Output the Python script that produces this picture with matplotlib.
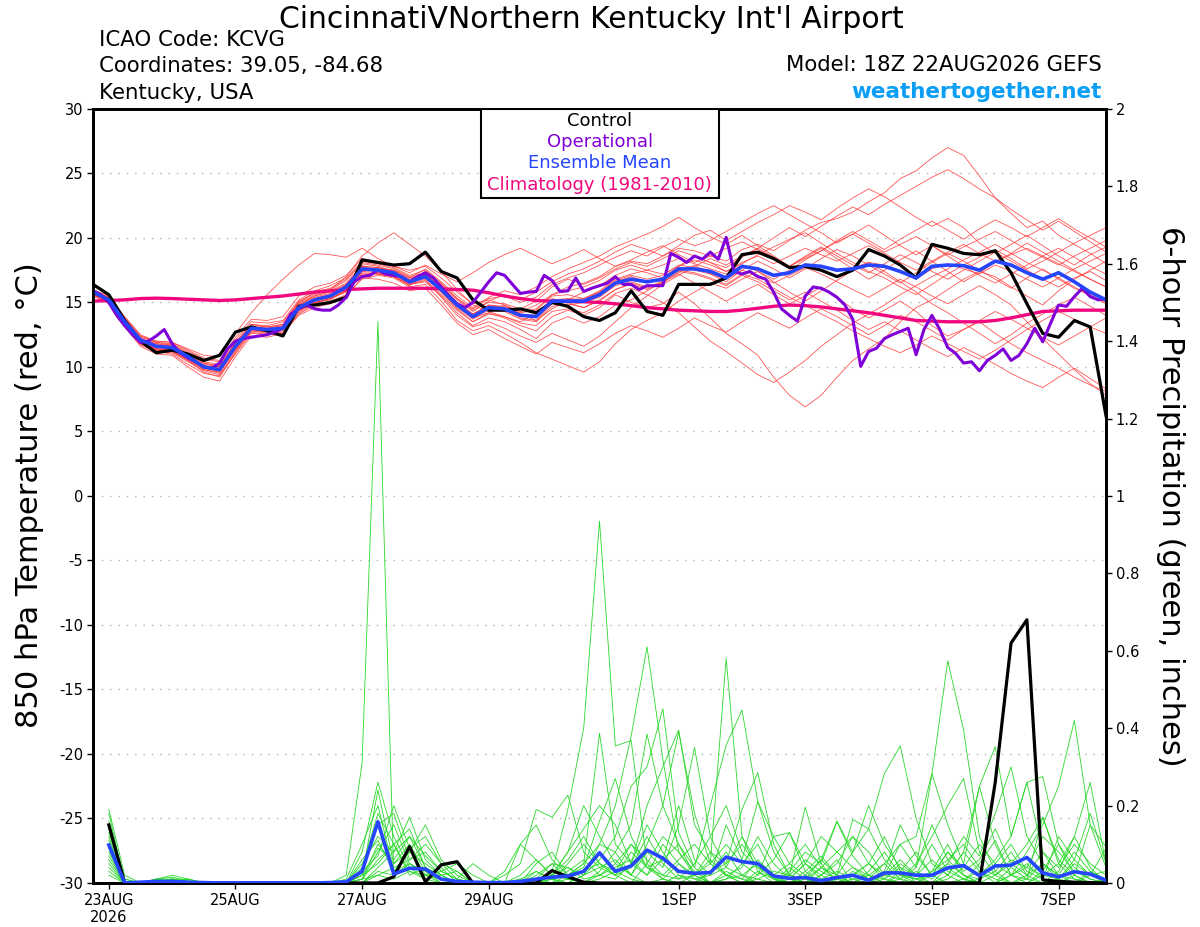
# GEFS 850 hPa temperature / 6-hour precipitation plume for KCVG
import datetime as dt
import matplotlib
matplotlib.use('Agg')
from matplotlib import pyplot as plt
from matplotlib.patches import Rectangle

plt.rcParams['font.family'] = ['DejaVu Sans']
plt.rcParams['axes.unicode_minus'] = False

start = dt.datetime(2026, 8, 22, 18)   # model run 18Z 22AUG2026
step = dt.timedelta(hours=6)

# ---- 850 hPa temperature (deg C), every 6 h from 22AUG 18Z ----
control_t = [16.4, 15.6, 13.6, 12.0, 11.1, 11.3, 11.0, 10.5, 10.9, 12.7,
             13.1, 12.8, 12.4, 14.7, 14.8, 15.0, 15.4, 18.3, 18.1, 17.9,
             18.0, 18.9, 17.4, 16.9, 15.2, 14.4, 14.4, 14.5, 14.2, 15.0,
             14.7, 13.9, 13.6, 14.2, 15.9, 14.3, 14.0, 16.4, 16.4, 16.4,
             16.9, 18.7, 18.9, 18.4, 17.7, 17.8, 17.5, 17.0, 17.5, 19.1,
             18.6, 17.9, 16.9, 19.5, 19.2, 18.8, 18.7, 19.0, 17.3, 14.9,
             12.6, 12.3, 13.6, 13.1, 6.2]

mean_t = [15.8, 15.2, 13.5, 12.1, 11.6, 11.5, 10.8, 10.0, 9.8, 11.6,
          13.0, 12.9, 13.0, 14.6, 15.2, 15.5, 16.2, 17.6, 17.5, 17.3,
          16.6, 17.0, 16.0, 14.8, 13.9, 14.6, 14.5, 14.0, 13.9, 15.1,
          15.1, 15.1, 15.6, 16.5, 16.8, 16.6, 16.8, 17.6, 17.6, 17.4,
          16.9, 17.8, 17.6, 17.1, 17.3, 17.9, 17.8, 17.5, 17.6, 17.9,
          17.8, 17.4, 16.9, 17.8, 17.9, 17.85, 17.5, 18.2, 17.9, 17.3,
          16.8, 17.3, 16.6, 15.8, 15.2]

clim_t = [15.1, 15.15, 15.2, 15.3, 15.33, 15.3, 15.25, 15.2, 15.15, 15.2,
          15.3, 15.4, 15.5, 15.65, 15.8, 15.9, 16.0, 16.05, 16.1, 16.1,
          16.1, 16.1, 16.05, 16.0, 15.95, 15.75, 15.5, 15.3, 15.15, 15.1,
          15.1, 15.05, 15.0, 14.9, 14.75, 14.6, 14.5, 14.4, 14.35, 14.3,
          14.3, 14.4, 14.55, 14.7, 14.8, 14.75, 14.65, 14.5, 14.35, 14.2,
          14.0, 13.8, 13.6, 13.55, 13.5, 13.5, 13.5, 13.6, 13.8, 14.05,
          14.3, 14.35, 14.4, 14.4, 14.4]

# operational run, every 3 h
oper_t = [15.9, 15.6, 15.0, 14.0, 13.2, 12.5, 11.9, 12.0, 12.4, 12.9,
          11.8, 11.1, 10.7, 10.4, 10.0, 9.9, 10.3, 11.4, 12.0, 12.2,
          12.3, 12.4, 12.5, 12.7, 13.0, 14.1, 14.5, 14.8, 14.5, 14.4,
          14.4, 14.8, 15.4, 16.6, 17.0, 17.1, 17.5, 17.2, 17.1, 17.0,
          16.6, 17.0, 17.3, 16.9, 16.2, 15.5, 14.9, 14.6, 15.0, 15.8,
          16.6, 17.3, 17.1, 16.4, 15.7, 15.8, 15.85, 17.1, 16.7, 15.85,
          15.9, 16.9, 15.85, 16.1, 16.3, 16.5, 17.0, 16.4, 16.4, 16.0,
          16.3, 16.3, 16.3, 18.8, 18.5, 18.1, 18.6, 18.35, 18.9, 18.35,
          20.05, 17.4, 17.2, 17.4, 17.0, 16.8, 15.8, 14.5, 14.0, 13.55,
          15.5, 16.2, 16.1, 15.8, 15.4, 14.8, 13.7, 10.05, 11.2, 11.45,
          12.2, 12.5, 12.75, 13.0, 10.95, 12.9, 14.0, 12.9, 11.5, 11.05,
          10.3, 10.4, 9.7, 10.5, 10.9, 11.4, 10.5, 10.9, 11.8, 13.0,
          11.95, 13.4, 14.8, 14.7, 15.45, 16.1, 15.45, 15.2, 15.3]

# ensemble members (red)
mem_t01 = [15.6, 15.0, 13.2, 11.8, 11.2, 11.0, 10.2, 9.5, 9.3, 11.2, 12.8, 12.6, 12.9,
           14.8, 15.5, 15.9, 16.5, 17.9, 17.2, 17.0, 16.3, 17.2, 15.8, 14.5, 13.5, 14.2,
           14.8, 14.3, 14.8, 15.6, 16.2, 16.5, 17.0, 17.8, 18.2, 18.0, 18.6, 19.2, 19.0,
           18.6, 18.2, 19.1, 19.5, 19.0, 19.8, 20.6, 21.2, 21.5, 22.0, 22.8, 23.5, 24.6,
           25.2, 26.2, 27.0, 26.4, 24.8, 23.1, 21.9, 20.8, 21.3, 20.2, 19.5, 18.8, 18.0]
mem_t02 = [15.7, 15.1, 13.4, 11.9, 11.4, 11.3, 10.6, 9.8, 9.5, 11.4, 12.9, 12.7, 12.8,
           14.4, 15.0, 15.2, 16.0, 17.4, 17.6, 17.5, 16.9, 17.2, 16.2, 14.9, 13.8, 14.2,
           13.8, 13.2, 12.8, 13.9, 14.4, 14.0, 14.6, 15.6, 15.0, 14.6, 14.9, 15.8, 14.9,
           13.8, 12.6, 11.8, 10.9, 9.2, 7.8, 6.9, 7.8, 9.2, 10.5, 11.4, 12.2, 13.5,
           14.6, 15.2, 16.0, 16.8, 17.4, 17.0, 16.2, 15.5, 14.8, 15.9, 16.8, 17.5, 18.2]
mem_t03 = [15.9, 15.3, 13.6, 12.3, 11.9, 11.7, 11.1, 10.4, 10.2, 11.9, 13.3, 13.2, 13.5,
           15.0, 15.8, 16.1, 16.8, 18.0, 17.8, 17.4, 16.7, 17.4, 16.3, 15.2, 14.3, 15.1,
           15.6, 15.2, 15.8, 16.6, 17.2, 17.6, 18.2, 18.9, 19.5, 19.1, 18.6, 19.4, 20.2,
           20.6, 19.8, 20.5, 21.2, 21.8, 22.5, 22.0, 21.4, 22.3, 23.1, 23.8, 23.2, 22.4,
           21.6, 20.9, 21.5, 20.8, 19.6, 18.8, 19.5, 20.2, 19.4, 18.6, 17.9, 18.7, 19.3]
mem_t04 = [15.5, 14.9, 13.1, 11.6, 11.0, 10.9, 10.0, 9.2, 8.9, 10.8, 12.4, 12.3, 12.6,
           14.2, 14.9, 15.3, 15.8, 17.1, 17.3, 17.0, 16.4, 16.6, 15.5, 14.2, 13.2, 13.8,
           13.5, 12.9, 12.2, 13.4, 13.9, 13.4, 13.9, 14.8, 15.2, 15.9, 16.6, 17.2, 16.5,
           15.8, 15.1, 15.8, 16.4, 15.6, 14.9, 15.5, 16.2, 15.4, 14.5, 13.8, 14.4, 15.1,
           14.3, 13.2, 12.4, 12.9, 13.5, 12.6, 11.8, 11.1, 10.5, 9.9, 9.2, 8.6, 8.1]
mem_t05 = [16.0, 15.5, 13.9, 12.5, 12.0, 11.9, 11.4, 10.9, 10.8, 12.6, 14.2, 15.6, 16.8,
           17.9, 18.8, 18.7, 18.5, 19.2, 18.4, 17.8, 17.5, 17.8, 16.9, 15.8, 14.9, 15.2,
           14.8, 14.1, 13.6, 14.5, 15.2, 15.8, 16.3, 17.1, 17.6, 17.3, 16.9, 17.8, 18.6,
           18.1, 17.4, 18.0, 18.7, 19.3, 19.9, 20.4, 19.6, 18.8, 18.1, 17.4, 16.9, 16.2,
           15.6, 16.4, 17.2, 17.9, 18.5, 19.1, 18.4, 17.6, 18.2, 18.9, 19.6, 20.2, 20.8]
mem_t06 = [15.8, 15.2, 13.5, 12.0, 11.5, 11.4, 10.7, 10.0, 9.6, 11.5, 13.1, 13.0, 13.2,
           15.0, 15.6, 16.0, 17.0, 18.6, 19.6, 20.4, 19.5, 18.6, 17.4, 16.0, 14.8, 14.3,
           13.9, 13.5, 14.1, 15.3, 15.0, 14.6, 15.2, 16.0, 16.4, 16.0, 16.6, 17.3, 17.9,
           17.2, 16.6, 17.5, 18.2, 17.6, 16.9, 17.6, 18.4, 19.1, 18.6, 17.9, 17.2, 16.5,
           17.3, 18.1, 18.8, 18.2, 17.5, 16.8, 16.1, 16.9, 17.6, 16.8, 16.1, 15.6, 15.0]
mem_t07 = [15.6, 15.0, 13.3, 11.7, 11.2, 11.1, 10.4, 9.7, 9.4, 11.0, 12.6, 12.5, 12.7,
           14.1, 14.8, 15.1, 15.6, 16.8, 17.1, 16.9, 16.2, 16.4, 15.1, 13.6, 12.8, 13.2,
           12.6, 11.9, 11.1, 10.6, 10.1, 9.6, 10.4, 11.8, 12.9, 13.6, 14.2, 15.1, 15.8,
           16.5, 16.1, 16.8, 17.4, 16.6, 15.8, 15.1, 15.9, 16.7, 17.5, 18.1, 17.4, 16.6,
           15.8, 14.9, 14.2, 13.4, 12.6, 11.8, 12.5, 13.4, 14.1, 14.8, 15.4, 14.7, 14.0]
mem_t08 = [15.9, 15.4, 13.7, 12.2, 11.8, 11.6, 11.0, 10.3, 10.0, 11.8, 13.2, 13.1, 13.3,
           14.9, 15.5, 15.8, 16.4, 17.8, 17.7, 17.5, 16.9, 17.6, 16.6, 15.5, 14.6, 15.4,
           15.9, 15.6, 16.2, 17.0, 17.6, 18.1, 18.6, 19.3, 19.8, 20.3, 20.9, 21.6, 20.8,
           20.1, 19.5, 20.2, 19.4, 18.6, 17.8, 18.5, 19.2, 18.4, 17.6, 16.8, 17.5, 18.3,
           19.0, 18.2, 17.4, 16.6, 17.3, 18.1, 18.8, 19.6, 18.9, 18.2, 17.5, 16.8, 16.2]
mem_t09 = [15.7, 15.2, 13.5, 12.1, 11.6, 11.5, 10.8, 10.1, 9.9, 11.7, 13.0, 12.9, 13.0,
           14.5, 15.1, 15.4, 16.1, 17.5, 17.4, 17.2, 16.6, 17.0, 15.9, 14.7, 13.8, 14.6,
           14.4, 13.8, 13.6, 14.9, 14.8, 15.0, 15.4, 16.3, 16.6, 16.2, 16.5, 17.4, 17.2,
           16.8, 16.3, 17.1, 16.6, 15.9, 15.2, 15.8, 15.1, 14.4, 13.6, 12.9, 13.5, 12.8,
           12.1, 11.4, 10.8, 11.5, 10.9, 10.2, 9.5, 8.9, 8.4, 9.2, 9.9, 9.1, 8.3]
mem_t10 = [15.8, 15.3, 13.6, 12.2, 11.7, 11.6, 10.9, 10.2, 10.0, 11.6, 13.0, 12.9, 13.1,
           14.7, 15.3, 15.6, 16.3, 17.7, 17.5, 17.3, 16.7, 17.1, 16.1, 15.0, 14.1, 14.8,
           14.6, 14.2, 14.4, 15.5, 15.6, 15.3, 15.9, 16.8, 17.2, 17.5, 17.9, 18.4, 18.0,
           17.6, 17.2, 17.9, 17.4, 16.8, 17.5, 18.3, 19.0, 19.8, 20.5, 19.8, 19.1, 19.9,
           20.6, 21.3, 20.6, 19.9, 20.7, 21.4, 20.8, 20.1, 20.8, 21.5, 20.7, 20.0, 19.3]
mem_t11 = [15.6, 15.1, 13.4, 11.8, 11.3, 11.2, 10.5, 9.8, 9.6, 11.3, 12.8, 12.7, 12.9,
           14.3, 15.0, 15.3, 15.9, 17.2, 17.2, 17.0, 16.4, 16.8, 15.6, 14.4, 13.5, 14.1,
           13.9, 13.4, 13.2, 14.3, 14.5, 14.2, 14.8, 15.7, 16.1, 15.6, 15.0, 14.2, 13.1,
           12.0, 11.2, 10.3, 9.4, 8.8, 9.6, 10.5, 11.6, 12.5, 13.4, 14.1, 14.8, 15.6,
           16.3, 17.0, 17.6, 18.3, 18.9, 19.5, 18.8, 18.1, 17.5, 16.9, 17.6, 18.2, 18.8]
mem_t12 = [15.9, 15.4, 13.8, 12.4, 11.9, 11.8, 11.2, 10.6, 10.4, 12.1, 13.5, 13.4, 13.6,
           15.2, 15.9, 16.3, 16.9, 18.2, 18.0, 17.7, 17.1, 17.5, 16.5, 15.3, 14.4, 15.0,
           14.9, 14.5, 15.1, 16.2, 16.8, 16.4, 16.9, 17.6, 18.1, 17.8, 18.4, 19.0, 18.6,
           18.1, 17.7, 18.5, 19.2, 20.0, 20.8, 20.1, 20.9, 21.7, 22.4, 21.8, 22.6, 23.3,
           24.0, 24.7, 25.3, 24.6, 23.8, 23.1, 22.2, 21.4, 20.6, 21.3, 20.5, 19.7, 18.9]
mem_t13 = [15.8, 15.2, 13.5, 12.0, 11.5, 11.4, 10.8, 10.0, 9.7, 11.6, 13.1, 12.9, 13.0,
           14.7, 15.3, 15.6, 16.3, 17.7, 17.6, 17.4, 16.7, 17.1, 16.1, 14.9, 14.0, 14.7,
           14.6, 14.1, 14.0, 15.2, 15.3, 15.2, 15.8, 16.7, 17.1, 16.8, 17.1, 17.9, 17.7,
           17.5, 17.0, 17.8, 17.6, 17.1, 17.4, 18.0, 17.8, 17.4, 17.7, 18.1, 17.9, 17.4,
           16.8, 17.6, 18.0, 17.6, 17.2, 17.9, 17.4, 16.8, 16.2, 16.9, 16.2, 15.5, 14.9]
mem_t14 = [15.7, 15.1, 13.3, 11.9, 11.4, 11.2, 10.5, 9.6, 9.2, 11.1, 12.7, 12.5, 12.6,
           14.0, 14.6, 14.9, 15.5, 16.9, 16.8, 16.5, 15.9, 16.1, 14.8, 13.4, 12.5, 12.9,
           12.2, 11.6, 11.0, 11.9, 11.5, 11.1, 11.8, 12.6, 13.2, 12.8, 12.3, 13.0, 13.8,
           13.2, 12.7, 13.5, 14.2, 13.6, 13.0, 13.8, 14.5, 13.9, 13.2, 12.5, 13.2, 14.0,
           13.5, 12.8, 12.1, 12.9, 13.6, 14.3, 13.7, 13.0, 12.3, 11.7, 12.4, 13.1, 13.8]
mem_t15 = [15.9, 15.3, 13.6, 12.2, 11.8, 11.7, 11.0, 10.3, 10.1, 11.9, 13.3, 13.1, 13.3,
           15.1, 15.7, 16.0, 16.7, 18.1, 17.9, 17.6, 17.0, 17.3, 16.4, 15.3, 14.5, 15.3,
           15.5, 15.0, 15.4, 16.4, 16.9, 17.3, 17.9, 18.5, 19.0, 18.6, 19.3, 19.9, 19.4,
           19.8, 20.5, 21.2, 21.9, 22.5, 21.8, 21.1, 20.4, 19.6, 20.3, 21.0, 20.2, 19.4,
           18.7, 19.4, 18.6, 17.8, 17.1, 16.5, 17.2, 17.9, 18.6, 19.2, 18.5, 17.8, 17.2]
mem_t16 = [15.6, 15.0, 13.3, 11.8, 11.3, 11.2, 10.6, 9.9, 9.7, 11.5, 12.9, 12.8, 12.9,
           14.5, 15.1, 15.4, 16.0, 17.4, 17.3, 17.1, 16.5, 16.9, 15.8, 14.6, 13.7, 14.4,
           14.3, 13.7, 13.5, 14.7, 14.9, 14.6, 15.1, 16.0, 16.5, 16.1, 16.7, 17.5, 17.3,
           16.9, 16.4, 17.2, 16.8, 16.1, 15.4, 14.8, 14.1, 13.5, 12.8, 12.2, 11.6, 11.1,
           11.7, 12.4, 11.8, 11.2, 10.6, 11.3, 12.1, 12.9, 13.6, 14.3, 13.7, 13.1, 12.6]
mem_t17 = [15.9, 15.4, 13.8, 12.4, 12.0, 11.9, 11.3, 10.7, 10.5, 12.3, 13.7, 13.6, 13.9,
           15.5, 16.2, 16.5, 17.1, 18.4, 18.1, 17.8, 17.3, 17.9, 17.2, 16.6, 17.3, 18.1,
           18.7, 19.2, 18.6, 18.0, 18.5, 19.1, 18.4, 17.8, 18.3, 18.9, 19.4, 18.7, 18.1,
           18.6, 19.2, 19.7, 19.1, 18.4, 17.8, 18.4, 19.0, 19.7, 20.3, 19.6, 18.9, 19.5,
           20.1, 19.4, 18.7, 19.3, 19.9, 20.5, 19.8, 19.1, 18.5, 17.9, 18.6, 19.2, 19.8]
mem_t18 = [15.7, 15.1, 13.4, 11.9, 11.4, 11.3, 10.6, 9.9, 9.7, 11.4, 12.9, 12.8, 12.9,
           14.4, 15.0, 15.3, 15.9, 17.3, 17.2, 17.0, 16.4, 16.7, 15.4, 14.0, 13.1, 13.5,
           13.0, 12.4, 11.9, 12.6, 12.1, 11.6, 12.4, 13.5, 14.6, 15.5, 16.4, 17.1, 17.8,
           18.4, 17.9, 18.6, 19.2, 18.5, 17.8, 18.6, 19.3, 18.6, 17.9, 17.3, 18.0, 18.7,
           18.1, 17.4, 16.8, 17.5, 18.2, 18.9, 18.2, 17.5, 16.8, 16.2, 16.9, 17.4, 16.7]
mem_t19 = [15.8, 15.3, 13.6, 12.1, 11.6, 11.5, 10.8, 10.1, 9.8, 11.7, 13.1, 13.0, 13.2,
           14.8, 15.4, 15.7, 16.4, 17.8, 17.7, 17.4, 16.8, 17.2, 16.2, 15.0, 14.1, 14.8,
           14.7, 14.3, 14.5, 15.6, 15.9, 16.2, 16.7, 17.5, 17.9, 17.5, 17.2, 17.8, 18.3,
           17.9, 17.4, 18.1, 18.6, 18.0, 18.6, 19.2, 18.7, 18.2, 18.8, 19.4, 18.8, 18.1,
           17.5, 18.2, 18.9, 19.5, 18.8, 18.2, 18.7, 19.2, 18.6, 18.0, 17.4, 16.8, 16.2]
mem_t20 = [15.7, 15.2, 13.5, 12.0, 11.5, 11.4, 10.7, 10.0, 9.7, 11.5, 13.0, 12.9, 13.0,
           14.6, 15.2, 15.5, 16.2, 17.6, 17.5, 17.3, 16.6, 17.0, 16.0, 14.8, 13.9, 14.6,
           14.5, 14.0, 13.9, 15.0, 15.2, 15.3, 15.8, 16.6, 17.0, 16.6, 16.9, 17.7, 17.5,
           17.2, 16.8, 17.5, 17.1, 16.5, 17.1, 17.7, 17.2, 16.6, 16.0, 15.4, 16.1, 16.8,
           16.2, 15.5, 14.9, 15.6, 16.3, 15.6, 14.8, 13.5, 12.2, 11.0, 9.8, 8.7, 7.8]

members_t = [mem_t01, mem_t02, mem_t03, mem_t04, mem_t05, mem_t06, mem_t07,
             mem_t08, mem_t09, mem_t10, mem_t11, mem_t12, mem_t13, mem_t14,
             mem_t15, mem_t16, mem_t17, mem_t18, mem_t19, mem_t20]

# ---- 6-hour precipitation (inches), periods ending 23AUG 00Z ... 7SEP 18Z ----
control_p = [0.15, 0, 0, 0, 0, 0, 0, 0,
             0, 0, 0, 0, 0, 0, 0, 0,
             0, 0, 0.016, 0.094, 0.003, 0.047, 0.055, 0,
             0, 0, 0, 0, 0.032, 0.016, 0.002, 0,
             0, 0, 0, 0, 0, 0, 0, 0,
             0, 0, 0, 0, 0, 0, 0, 0,
             0, 0, 0, 0, 0, 0, 0, 0,
             0.26, 0.62, 0.68, 0.008, 0.004, 0.002, 0.001, 0]

mean_p = [0.098, 0, 0.002, 0.004, 0.004, 0.002, 0.001, 0,
          0, 0, 0, 0, 0, 0, 0.001, 0.003,
          0.03, 0.158, 0.023, 0.038, 0.036, 0.01, 0.004, 0.002,
          0.001, 0.001, 0.004, 0.01, 0.015, 0.018, 0.03, 0.078,
          0.03, 0.044, 0.085, 0.064, 0.03, 0.025, 0.027, 0.067,
          0.055, 0.05, 0.018, 0.012, 0.014, 0.006, 0.014, 0.02,
          0.007, 0.026, 0.026, 0.02, 0.02, 0.039, 0.045, 0.019,
          0.044, 0.046, 0.066, 0.026, 0.016, 0.029, 0.023, 0.007]

mem_p01 = [0.12, 0, 0, 0.01, 0.005, 0, 0, 0,  0, 0, 0, 0, 0, 0, 0, 0.02,
           0.31, 1.45, 0.02, 0.05, 0.03, 0.01, 0, 0,  0, 0, 0, 0.02, 0.05, 0.01, 0, 0.03,
           0.08, 0.02, 0, 0.01, 0.05, 0.02, 0, 0,  0, 0.03, 0.01, 0, 0, 0.02, 0.06, 0,
           0, 0.01, 0.04, 0, 0, 0.02, 0.08, 0.03,  0, 0, 0.02, 0.05, 0.01, 0, 0.03, 0]
mem_p02 = [0.08, 0, 0, 0, 0.01, 0.01, 0, 0,  0, 0, 0, 0, 0, 0, 0, 0,
           0.02, 0.24, 0.05, 0.1, 0.03, 0, 0, 0,  0, 0, 0, 0, 0.03, 0.19, 0.4, 0.935,
           0.354, 0.368, 0.05, 0.01, 0, 0, 0.03, 0.08,  0.02, 0, 0, 0.04, 0.01, 0, 0, 0.02,
           0.05, 0.01, 0, 0, 0.03, 0.1, 0.02, 0,  0, 0.04, 0.01, 0, 0, 0.02, 0, 0]
mem_p03 = [0.15, 0.01, 0, 0, 0, 0, 0, 0,  0, 0, 0, 0, 0, 0, 0, 0,
           0.05, 0.12, 0.08, 0.17, 0.06, 0.02, 0, 0,  0, 0, 0, 0, 0, 0.02, 0.05, 0.1,
           0.2, 0.38, 0.61, 0.32, 0.08, 0.02, 0, 0.01,  0.05, 0.1, 0.02, 0, 0.01, 0.06, 0.02, 0,
           0, 0, 0.03, 0.08, 0.02, 0, 0, 0.05,  0.11, 0.02, 0, 0, 0.03, 0.12, 0.04, 0]
mem_p04 = [0.06, 0, 0, 0.005, 0.01, 0, 0, 0,  0, 0, 0, 0, 0, 0, 0, 0,
           0.01, 0.08, 0.15, 0.05, 0.02, 0.04, 0, 0,  0, 0, 0, 0.05, 0.08, 0.02, 0, 0.02,
           0.05, 0.02, 0.1, 0.2, 0.39, 0.18, 0.05, 0.58,  0.12, 0.03, 0, 0.01, 0.05, 0.02, 0, 0,
           0.03, 0.08, 0.02, 0, 0, 0.04, 0.01, 0,  0, 0.02, 0.05, 0.01, 0, 0, 0.02, 0.09]
mem_p05 = [0.18, 0, 0, 0, 0.01, 0.005, 0, 0,  0, 0, 0, 0, 0, 0, 0, 0.01,
           0.1, 0.2, 0.03, 0.05, 0.02, 0.01, 0, 0,  0, 0, 0.01, 0.03, 0.01, 0, 0.02, 0.06,
           0.12, 0.25, 0.3, 0.45, 0.13, 0.04, 0, 0.02,  0, 0.01, 0.03, 0.02, 0, 0.04, 0.08, 0.12,
           0.05, 0.02, 0.1, 0.04, 0.28, 0.574, 0.395, 0.12,  0.03, 0, 0.01, 0.05, 0.02, 0, 0, 0.01]
mem_p06 = [0.1, 0, 0, 0, 0, 0, 0, 0,  0, 0, 0, 0, 0, 0, 0, 0,
           0.03, 0.15, 0.18, 0.06, 0.1, 0.05, 0.01, 0,  0, 0, 0.1, 0.06, 0.02, 0.08, 0.14, 0.2,
           0.15, 0.05, 0.02, 0.06, 0.1, 0.04, 0.2, 0.356,  0.447, 0.21, 0.12, 0.05, 0.02, 0, 0.01, 0.04,
           0.02, 0, 0.01, 0.05, 0.12, 0.2, 0.27, 0.08,  0.02, 0, 0, 0.03, 0.1, 0.02, 0, 0]
mem_p07 = [0.04, 0, 0, 0, 0, 0.01, 0, 0,  0, 0, 0, 0, 0, 0, 0, 0,
           0, 0.04, 0.08, 0.12, 0.07, 0.03, 0.05, 0.02,  0, 0.02, 0.05, 0.19, 0.17, 0.227, 0.08, 0.04,
           0.02, 0, 0.05, 0.12, 0.08, 0.03, 0, 0.01,  0.02, 0.05, 0.01, 0, 0.03, 0.07, 0.02, 0,
           0, 0.02, 0.06, 0.02, 0, 0.01, 0.04, 0.1,  0.05, 0.02, 0.08, 0.15, 0.25, 0.42, 0.15, 0.04]
mem_p08 = [0.13, 0, 0, 0.005, 0.005, 0, 0, 0,  0, 0, 0, 0, 0, 0, 0, 0,
           0.02, 0.05, 0.1, 0.14, 0.04, 0.01, 0, 0,  0, 0, 0, 0, 0.01, 0.03, 0.06, 0.02,
           0.01, 0.05, 0.15, 0.08, 0.02, 0, 0.03, 0.05,  0.1, 0.04, 0.01, 0, 0.02, 0.06, 0.16, 0.08,
           0.14, 0.283, 0.354, 0.167, 0.05, 0.02, 0, 0.01,  0.03, 0.08, 0.02, 0, 0.01, 0.05, 0.02, 0]
mem_p09 = [0.07, 0, 0, 0, 0.01, 0, 0, 0,  0, 0, 0, 0, 0, 0, 0, 0,
           0.01, 0.1, 0.05, 0.08, 0.15, 0.06, 0.02, 0,  0, 0, 0, 0.01, 0, 0.05, 0.1, 0.05,
           0.02, 0.08, 0.04, 0.01, 0, 0.02, 0.06, 0.02,  0, 0.02, 0.12, 0.13, 0.05, 0.01, 0, 0.03,
           0.01, 0.05, 0.1, 0.12, 0.283, 0.15, 0.05, 0.25,  0.352, 0.12, 0.26, 0.275, 0.1, 0.04, 0.01, 0]
mem_p10 = [0.09, 0, 0, 0.01, 0.01, 0, 0, 0,  0, 0, 0, 0, 0, 0, 0, 0,
           0.04, 0.18, 0.1, 0.03, 0.02, 0, 0, 0,  0, 0.03, 0.1, 0.15, 0.06, 0.02, 0.05, 0.387,
           0.1, 0.05, 0.2, 0.3, 0.395, 0.15, 0.08, 0.05,  0.19, 0.285, 0.1, 0.02, 0.196, 0.05, 0, 0.01,
           0.02, 0, 0, 0.03, 0.01, 0.05, 0.02, 0,  0, 0.02, 0.01, 0.17, 0.05, 0.12, 0.26, 0.05]
mem_p11 = [0.05, 0, 0, 0, 0, 0, 0, 0,  0, 0, 0, 0, 0, 0, 0, 0,
           0, 0.03, 0.02, 0.09, 0.12, 0.05, 0.03, 0,  0, 0, 0, 0, 0.02, 0.04, 0.02, 0.1,
           0.08, 0.15, 0.385, 0.2, 0.1, 0.02, 0.05, 0.1,  0.05, 0.02, 0.06, 0.13, 0.03, 0, 0.02, 0.164,
           0.14, 0.06, 0.02, 0.01, 0.03, 0.06, 0.1, 0.04,  0.02, 0.05, 0.1, 0.17, 0.06, 0.02, 0.15, 0.093]
mem_p12 = [0.11, 0, 0, 0, 0.005, 0.01, 0, 0,  0, 0, 0, 0, 0, 0, 0, 0,
           0.02, 0.09, 0.06, 0.12, 0.04, 0.02, 0, 0,  0, 0, 0, 0, 0.01, 0, 0.02, 0.04,
           0.06, 0.02, 0.08, 0.04, 0.15, 0.35, 0.12, 0.04,  0.02, 0.01, 0, 0.03, 0.08, 0.05, 0.158, 0.07,
           0.02, 0.05, 0.01, 0, 0.02, 0.08, 0.04, 0.02,  0.06, 0.12, 0.26, 0.08, 0.02, 0.01, 0, 0]
mem_p13 = [0.03, 0, 0, 0.01, 0.02, 0.01, 0, 0,  0, 0, 0, 0, 0, 0, 0, 0,
           0, 0.02, 0.04, 0.06, 0.08, 0.03, 0.01, 0.05,  0.02, 0, 0, 0, 0, 0.01, 0.03, 0.05,
           0.03, 0.1, 0.06, 0.02, 0.01, 0.05, 0.12, 0.2,  0.08, 0.04, 0.02, 0.01, 0.05, 0.12, 0.08, 0.04,
           0.01, 0.03, 0.15, 0.07, 0.02, 0.05, 0.12, 0.07,  0.18, 0.3, 0.12, 0.05, 0.02, 0.08, 0.03, 0.01]
mem_p14 = [0.02, 0, 0, 0, 0, 0, 0, 0,  0, 0, 0, 0, 0, 0, 0, 0,
           0.01, 0.02, 0.01, 0.03, 0.01, 0, 0, 0,  0, 0, 0, 0.01, 0.02, 0.01, 0, 0.01,
           0.03, 0.01, 0, 0, 0.02, 0.01, 0, 0.03,  0.01, 0, 0, 0.02, 0, 0.01, 0.03, 0.01,
           0, 0, 0.02, 0.01, 0, 0, 0.01, 0.03,  0.01, 0, 0, 0.02, 0.05, 0.01, 0, 0]
mem_p15 = [0.16, 0.01, 0, 0, 0.01, 0, 0, 0,  0, 0, 0, 0, 0, 0, 0, 0,
           0.06, 0.11, 0.03, 0.08, 0.05, 0.02, 0.03, 0,  0, 0, 0.02, 0.06, 0.02, 0.08, 0.2, 0.12,
           0.05, 0.1, 0.04, 0.06, 0.2, 0.06, 0.02, 0.15,  0.06, 0.21, 0.08, 0.02, 0.01, 0.04, 0.02, 0.08,
           0.2, 0.1, 0.04, 0.02, 0.06, 0.02, 0.08, 0.25,  0.1, 0.02, 0.04, 0.02, 0.01, 0.06, 0.18, 0.05]
mem_p16 = [0.14, 0, 0, 0.005, 0, 0, 0, 0,  0, 0, 0, 0, 0, 0, 0, 0,
           0.08, 0.26, 0.12, 0.04, 0.01, 0.02, 0, 0,  0, 0, 0, 0.01, 0.05, 0.04, 0.01, 0.02,
           0.04, 0.06, 0.02, 0.1, 0.05, 0.01, 0.02, 0.04,  0.12, 0.05, 0.01, 0.02, 0.06, 0.03, 0.01, 0,
           0.02, 0.01, 0.05, 0.02, 0.1, 0.03, 0.01, 0,  0.02, 0.06, 0.04, 0.12, 0.08, 0.03, 0.01, 0]
mem_p17 = [0.19, 0.02, 0, 0, 0, 0, 0, 0,  0, 0, 0, 0, 0, 0, 0, 0,
           0.01, 0.06, 0.1, 0.02, 0.04, 0.01, 0, 0,  0, 0, 0.01, 0, 0.02, 0.06, 0.12, 0.05,
           0.02, 0.04, 0.12, 0.05, 0.01, 0.02, 0.08, 0.02,  0.04, 0.12, 0.05, 0.01, 0, 0.02, 0.05, 0.12,
           0.08, 0.02, 0.01, 0.04, 0.15, 0.06, 0.02, 0.01,  0.05, 0.1, 0.03, 0.01, 0.12, 0.06, 0.02, 0.03]
mem_p18 = [0.1, 0, 0, 0.01, 0.015, 0.005, 0, 0,  0, 0, 0, 0, 0, 0, 0, 0,
           0.03, 0.07, 0.2, 0.09, 0.02, 0.03, 0.01, 0,  0, 0, 0, 0.03, 0.01, 0.02, 0.04, 0.16,
           0.27, 0.12, 0.04, 0.02, 0.06, 0.1, 0.05, 0.02,  0.01, 0.06, 0.02, 0.05, 0.1, 0.04, 0.01, 0.02,
           0.05, 0.12, 0.03, 0.01, 0.02, 0.08, 0.03, 0.06,  0.14, 0.05, 0.02, 0.08, 0.04, 0.1, 0.05, 0.02]

members_p = [mem_p01, mem_p02, mem_p03, mem_p04, mem_p05, mem_p06, mem_p07,
             mem_p08, mem_p09, mem_p10, mem_p11, mem_p12, mem_p13, mem_p14,
             mem_p15, mem_p16, mem_p17, mem_p18]

# x axis ticks
tick_dates = [(8, 23), (8, 25), (8, 27), (8, 29), (9, 1), (9, 3), (9, 5), (9, 7)]
tick_labels = ['23AUG\n2026', '25AUG', '27AUG', '29AUG', '1SEP', '3SEP', '5SEP', '7SEP']
prcp_ticks = [0, 0.2, 0.4, 0.6, 0.8, 1.0, 1.2, 1.4, 1.6, 1.8, 2.0]
prcp_tick_labels = ['0', '0.2', '0.4', '0.6', '0.8', '1', '1.2', '1.4', '1.6', '1.8', '2']
legend_items = [('Control', 'black'), ('Operational', '#8000d8'),
                ('Ensemble Mean', '#2545ff'), ('Climatology (1981-2010)', '#f0087e')]

t6 = [start + step * i for i in range(65)]
t3 = [start + step / 2 * j for j in range(129)]
tp = [start + step * k for k in range(1, 65)]

fig = plt.figure(figsize=(12, 9.27), dpi=100)
ax = fig.add_axes([0.0775, 0.0475, 0.8442, 0.835])
ax2 = ax.twinx()

for v in range(-25, 30, 5):
    ax.axhline(v, color='#b4b4b4', lw=1.0, ls=(0, (1, 5)), zorder=1)

for m in members_t:
    ax.plot(t6[:len(m)], m, color='#ff3838', lw=0.6, alpha=0.85, zorder=2)
ax.plot(t6, clim_t, color='#f0087e', lw=2.4, zorder=3)
ax.plot(t6, control_t, color='black', lw=2.3, zorder=4)
ax.plot(t3, oper_t, color='#8000d8', lw=2.2, zorder=5)
ax.plot(t6, mean_t, color='#2545ff', lw=2.6, zorder=6)

for m in members_p:
    ax2.plot(tp[:len(m)], m, color='#2ad82a', lw=0.6, zorder=2)
ax2.plot(tp, control_p, color='black', lw=2.3, zorder=4)
ax2.plot(tp, mean_p, color='#2545ff', lw=2.6, zorder=5)

ax.set_xlim(start, start + dt.timedelta(days=16))
ax.set_ylim(-30, 30)
ax.set_yticks(range(-30, 31, 5))
ax2.set_ylim(0, 2)
ax2.set_yticks(prcp_ticks)
ax2.set_yticklabels(prcp_tick_labels)
ax.set_xticks([dt.datetime(2026, mo, d) for mo, d in tick_dates])
ax.set_xticklabels(tick_labels)

for a in (ax, ax2):
    for s in a.spines.values():
        s.set_linewidth(2.0)
    a.tick_params(direction='out', length=4, width=1, labelsize=10.5, pad=3)

# legend box at top centre
ax2.add_patch(Rectangle((0.3827, 0.885), 0.2356, 0.115, transform=ax2.transAxes,
                        facecolor='white', edgecolor='black', lw=1.5, zorder=10))
for n, (txt, col) in enumerate(legend_items):
    ax2.text(0.5003, 0.9849 - n * 0.0277, txt, color=col, fontsize=13,
             ha='center', va='center', transform=ax2.transAxes, zorder=11)

fig.text(591 / 1200, 1 - 27.5 / 927, "CincinnatiVNorthern Kentucky Int'l Airport",
         ha='center', va='baseline', fontsize=21.5)
fig.text(99 / 1200, 1 - 46 / 927, 'ICAO Code: KCVG', fontsize=15.3, va='baseline')
fig.text(99 / 1200, 1 - 72.5 / 927, 'Coordinates: 39.05, -84.68', fontsize=15.3, va='baseline')
fig.text(99 / 1200, 1 - 99 / 927, 'Kentucky, USA', fontsize=15.3, va='baseline')
fig.text(1102 / 1200, 1 - 71 / 927, 'Model: 18Z 22AUG2026 GEFS', fontsize=15.3,
         ha='right', va='baseline')
fig.text(1102 / 1200, 1 - 98 / 927, 'weathertogether.net', fontsize=15.5, fontweight='bold',
         color='#0a9ef5', ha='right', va='baseline')
fig.text(30 / 1200, 1 - 495 / 927, '850 hPa Temperature (red, \u00b0C)', fontsize=22,
         rotation=90, ha='center', va='center')
fig.text(1171 / 1200, 1 - 496 / 927, '6-hour Precipitation (green, inches)', fontsize=22,
         rotation=-90, ha='center', va='center')

fig.savefig('out.png', dpi=100)
